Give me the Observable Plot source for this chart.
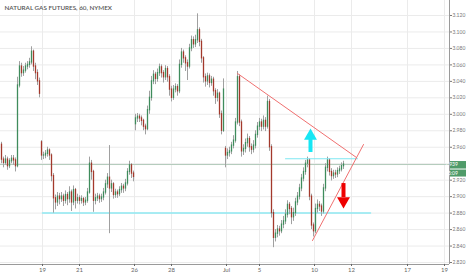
<!DOCTYPE html>
<html><head><meta charset="utf-8">
<script src="https://cdn.jsdelivr.net/npm/d3@7"></script>
<script src="https://cdn.jsdelivr.net/npm/@observablehq/plot@0.6"></script>
<style>html,body{margin:0;padding:0;background:#fff}</style>
</head><body><div id="chart"></div>
<script>
const title = "NATURAL GAS FUTURES, 60, NYMEX";
const closes = [
2.945,2.941,2.945,2.937,2.943,2.946,2.944,2.937,
3.035,3.058,3.050,3.053,3.058,3.060,3.063,3.076,
3.058,3.050,3.040,3.025,
2.950,2.950,2.952,2.956,2.950,2.925,2.898,2.893,2.900,
2.897,2.900,2.895,2.902,2.897,2.905,2.893,2.908,2.895,2.898,
2.895,2.897,2.893,2.895,2.905,2.940,2.930,2.895,2.898,2.900,
2.897,2.899,2.905,2.915,2.923,2.910,2.915,2.902,2.905,
2.903,2.908,2.912,2.910,2.916,2.930,2.938,2.928,2.924,
2.995,2.997,2.995,2.992,2.985,2.982,3.005,3.020,3.040,3.048,
3.043,3.050,3.057,3.050,3.045,3.055,3.045,3.030,3.020,3.030,
3.033,3.028,3.060,3.075,3.068,3.062,3.058,3.080,3.090,3.085,3.090,
3.102,3.088,3.068,3.045,3.040,3.046,3.038,3.042,3.028,3.020,3.025,
3.000,2.980,3.030,
2.950,2.953,2.955,2.962,
2.968,2.990,3.045,2.990,2.955,2.958,2.965,2.970,2.960,2.957,2.962,
2.975,2.985,2.990,2.985,2.992,2.985,3.015,
2.960,2.880,2.850,2.855,2.860,2.858,2.866,2.870,2.878,2.890,2.885,
2.875,2.880,2.893,2.900,2.910,2.922,2.930,2.940,2.944,
2.900,2.865,2.858,2.885,2.890,2.888,2.882,2.910,2.935,2.944,
2.930,2.925,2.928,2.927,2.931,2.933,2.937,2.939];
const highs = [
2.966,2.948,2.950,2.948,2.946,2.950,2.950,2.947,
3.045,3.064,3.062,3.058,3.062,3.064,3.068,3.082,
3.078,3.062,3.054,3.044,
2.968,2.954,2.956,2.960,2.958,2.952,2.928,2.902,2.905,
2.904,2.905,2.903,2.907,2.905,2.912,2.908,2.913,2.910,2.903,
2.901,2.901,2.899,2.899,2.910,2.948,2.944,2.932,2.903,2.904,
2.903,2.903,2.910,2.920,2.928,2.962,2.920,2.917,2.909,
2.908,2.912,2.916,2.915,2.921,2.934,2.943,2.940,2.931,
3.000,3.001,3.000,2.998,2.994,2.988,3.010,3.028,3.046,3.053,
3.051,3.055,3.061,3.060,3.053,3.059,3.058,3.048,3.034,3.035,
3.037,3.036,3.066,3.080,3.078,3.071,3.066,3.085,3.095,3.094,3.096,
3.122,3.105,3.091,3.070,3.049,3.050,3.049,3.046,3.045,3.031,3.030,
3.027,3.004,3.043,
2.961,2.958,2.960,2.966,
2.974,2.995,3.052,3.048,2.993,2.963,2.970,2.976,2.973,2.964,2.968,
2.980,2.990,2.995,2.994,2.998,2.996,3.022,
3.018,2.963,2.884,2.860,2.865,2.864,2.871,2.876,2.884,2.895,2.893,
2.888,2.886,2.898,2.905,2.915,2.927,2.935,2.944,2.948,
2.946,2.903,2.868,2.891,2.896,2.894,2.891,2.915,2.940,2.948,
2.946,2.934,2.932,2.932,2.935,2.937,2.941,2.943];
const lows = [
2.940,2.935,2.938,2.932,2.934,2.940,2.938,2.930,
2.935,3.032,3.045,3.046,3.050,3.054,3.056,3.060,
3.052,3.042,3.035,3.020,
2.944,2.945,2.946,2.948,2.944,2.918,2.880,2.884,2.888,
2.890,2.893,2.888,2.891,2.889,2.892,2.882,2.889,2.885,2.891,
2.890,2.891,2.888,2.889,2.892,2.903,2.920,2.881,2.890,2.894,
2.892,2.893,2.895,2.902,2.910,2.855,2.905,2.897,2.898,
2.898,2.900,2.904,2.904,2.906,2.913,2.926,2.922,2.918,
2.980,2.990,2.990,2.986,2.980,2.975,2.980,3.000,3.016,3.036,
3.036,3.039,3.046,3.044,3.038,3.041,3.039,3.022,3.015,3.017,
3.026,3.022,3.025,3.056,3.062,3.052,3.041,3.055,3.076,3.080,3.081,
3.086,3.082,3.062,3.038,3.033,3.035,3.032,3.034,3.022,3.012,3.015,
2.995,2.975,2.978,
2.935,2.945,2.948,2.951,
2.958,2.965,2.987,2.985,2.948,2.950,2.953,2.960,2.954,2.951,2.953,
2.958,2.971,2.980,2.979,2.981,2.979,2.982,
2.955,2.874,2.838,2.845,2.850,2.852,2.855,2.861,2.866,2.874,2.878,
2.866,2.870,2.876,2.889,2.896,2.906,2.918,2.926,2.935,
2.895,2.860,2.851,2.855,2.880,2.882,2.876,2.879,2.906,2.930,
2.925,2.919,2.921,2.922,2.923,2.927,2.930,2.933];
// session opens that gap away from the prior close
const gapOpens = [[0, 2.963], [20, 2.966], [67, 2.988], [112, 2.958]];
const xTickPos = [21, 39.5, 67, 85.5, 113, 129.5, 157, 175.5, 203.5, 222];
const xTickLabels = ["19", "21", "26", "28", "Jul", "5", "10", "12", "17", "19"];
const yTicks = [2.82,2.84,2.86,2.88,2.90,2.92,2.94,2.96,2.98,3.00,3.02,3.04,3.06,3.08,3.10,3.12];
const hiddenTick = 2.94; // covered by the last-price tag in the original
const xDomain = [0, 224.5];
const yDomain = [2.8176, 3.1382];
const lastPrice = 2.939;
const countdown = "45:09";
// drawings (bar index, price)
const resistanceLine = [[118.5, 3.0496], [178, 2.9475]];
const supportLine = [[156, 2.8467], [181.5, 2.9633]];
const levelHigh = [[142.5, 2.946], [178.5, 2.946]];
const levelLow = [[21, 2.880], [185, 2.880]];
const upArrow = {x: 155, y1: 2.9536, y2: 2.9694, head: 2.9736};
const downArrow = {x: 171.5, y1: 2.9159, y2: 2.8989, head: 2.8947};

const gapMap = new Map(gapOpens);
const bars = closes.map((c, i) => ({
  i: i + 0.5,
  open: gapMap.has(i) ? gapMap.get(i) : closes[i - 1],
  close: c, high: highs[i], low: lows[i]
}));
const labelMap = new Map(xTickPos.map((p, k) => [p, xTickLabels[k]]));
const UP = "#3f8c5c", DOWN = "#a3392c";
const FONT = "Lato, 'Open Sans', sans-serif";

const chart = Plot.plot({
  width: 466, height: 275,
  marginLeft: 0, marginRight: 17, marginTop: 0, marginBottom: 11,
  style: {fontFamily: FONT, background: "#fff", overflow: "visible"},
  x: {domain: xDomain, axis: null},
  y: {domain: yDomain, axis: null},
  marks: [
    Plot.gridX(xTickPos, {stroke: "#ebebeb", strokeOpacity: 1}),
    Plot.gridY(yTicks, {stroke: "#ebebeb", strokeOpacity: 1}),
    Plot.ruleX([xDomain[1]], {stroke: "#9a9a9a"}),
    Plot.ruleY([yDomain[0]], {stroke: "#9a9a9a"}),
    Plot.axisY(yTicks, {anchor: "right", tickFormat: d => Math.abs(d - hiddenTick) < 1e-9 ? "" : d.toFixed(3), tickSize: 2, tickPadding: 1, fontSize: 5, color: "#777"}),
    Plot.axisX(xTickPos, {anchor: "bottom", tickFormat: d => labelMap.get(d), tickSize: 2, tickPadding: 1, fontSize: 6, color: "#666"}),
    Plot.ruleY([lastPrice], {stroke: "#b3cbbb", strokeWidth: 1}),
    Plot.line(levelLow, {x: d => d[0], y: d => d[1], stroke: "#8fe9f2", strokeWidth: 1.5}),
    Plot.ruleX(bars, {x: "i", y1: "low", y2: "high", stroke: "#a0a0a0", strokeWidth: 1}),
    Plot.ruleX(bars, {x: "i", y1: "open", y2: "close", stroke: d => d.close >= d.open ? UP : DOWN, strokeWidth: 1.3, strokeLinecap: "square"}),
    Plot.line(levelHigh, {x: d => d[0], y: d => d[1], stroke: "#7fe8f2", strokeWidth: 1.2}),
    Plot.line(resistanceLine, {x: d => d[0], y: d => d[1], stroke: "#f07070", strokeWidth: 1}),
    Plot.line(supportLine, {x: d => d[0], y: d => d[1], stroke: "#f07070", strokeWidth: 1}),
    Plot.ruleX([upArrow], {x: "x", y1: "y1", y2: "y2", stroke: "#17e6f4", strokeWidth: 4}),
    Plot.dot([upArrow], {x: "x", y: "head", symbol: "triangle", r: 4.8, fill: "#17e6f4", stroke: null}),
    Plot.ruleX([downArrow], {x: "x", y1: "y1", y2: "y2", stroke: "#ee0000", strokeWidth: 4}),
    Plot.dot([downArrow], {x: "x", y: "head", symbol: "triangle", r: 4.8, rotate: 180, fill: "#ee0000", stroke: null}),
    Plot.text([title], {frameAnchor: "top-left", dx: 4, dy: 5, fontSize: 6.3, fontWeight: 600, fill: "#555"})
  ]
});

// last-price tag in the right margin, positioned through the y scale
const svg = d3.select(chart);
const yPos = chart.scale("y").apply(lastPrice) + 0.5;
const xLeft = chart.scale("x").apply(xDomain[1]);
const g = svg.append("g").attr("font-family", FONT).attr("font-size", 5).attr("fill", "#fff");
g.append("rect").attr("x", xLeft + 1).attr("y", yPos - 3.5).attr("width", 466 - xLeft - 1).attr("height", 7.5).attr("fill", "#4f9b69");
g.append("text").attr("x", xLeft + 2.5).attr("y", yPos + 0.3).attr("dy", "0.32em").text(lastPrice.toFixed(3));
g.append("rect").attr("x", xLeft + 1).attr("y", yPos + 5).attr("width", 466 - xLeft - 1).attr("height", 7).attr("fill", "#4f9b69");
g.append("text").attr("x", xLeft + 2.5).attr("y", yPos + 8.5).attr("dy", "0.32em").text(countdown);

document.getElementById("chart").appendChild(chart);
</script>
</body></html>
